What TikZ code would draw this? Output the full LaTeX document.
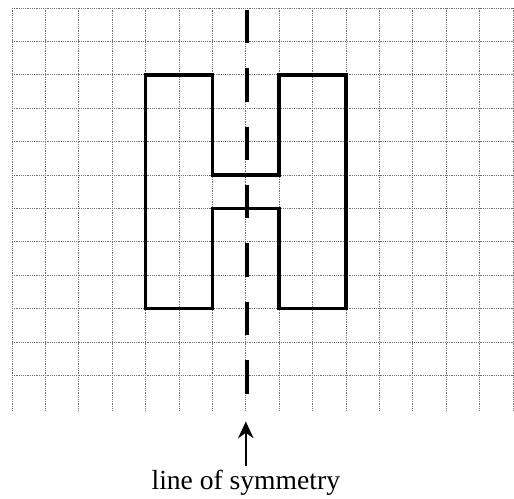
\documentclass[tikz,border=0pt]{standalone}
\usepackage{fontspec}
\setmainfont{Liberation Serif}
\usetikzlibrary{positioning, arrows.meta}
\tikzset{
  gridline/.style={gray!90!black, densely dotted, line width=0.55pt},
  outline/.style={line width=3pt, line join=miter},
  symline/.style={line width=3.2pt, dash pattern=on 1cm off 0.75cm},
  arrow/.style={line width=2.2pt, -{Stealth[length=5mm, width=4.6mm]}},
  caption/.style={font=\fontsize{23.5}{28}\selectfont, anchor=base}
}
\begin{document}
\begin{tikzpicture}
    \useasboundingbox (-0.36,-2.70) rectangle (15.03,12.24);

    % Karopapier
    \foreach \x in {0,...,15}
      \draw [gridline] (\x,-0.05) -- (\x,12);
    \foreach \y in {1,...,12}
      \draw [gridline] (0,\y) -- (15,\y);

    % Buchstabe H
    \draw [outline] (4,10) -- (6,10) -- (6,7) -- (8,7) -- (8,10) -- (10,10)
      -- (10,3) -- (8,3) -- (8,6) -- (6,6) -- (6,3) -- (4,3) -- cycle;

    % Symmetrieachse
    \coordinate (axistop) at (7.03,11.95);
    \coordinate (axisbot) at (7.03,-0.05);
    \draw [symline] (axistop) -- (axisbot);

    % Beschriftung
    \node (label) [caption] at (7,-2.43) {line of symmetry};
    \coordinate (tip) at (7,-0.38);
    \draw [arrow] (label.north) -- (tip);

\end{tikzpicture}
\end{document}
